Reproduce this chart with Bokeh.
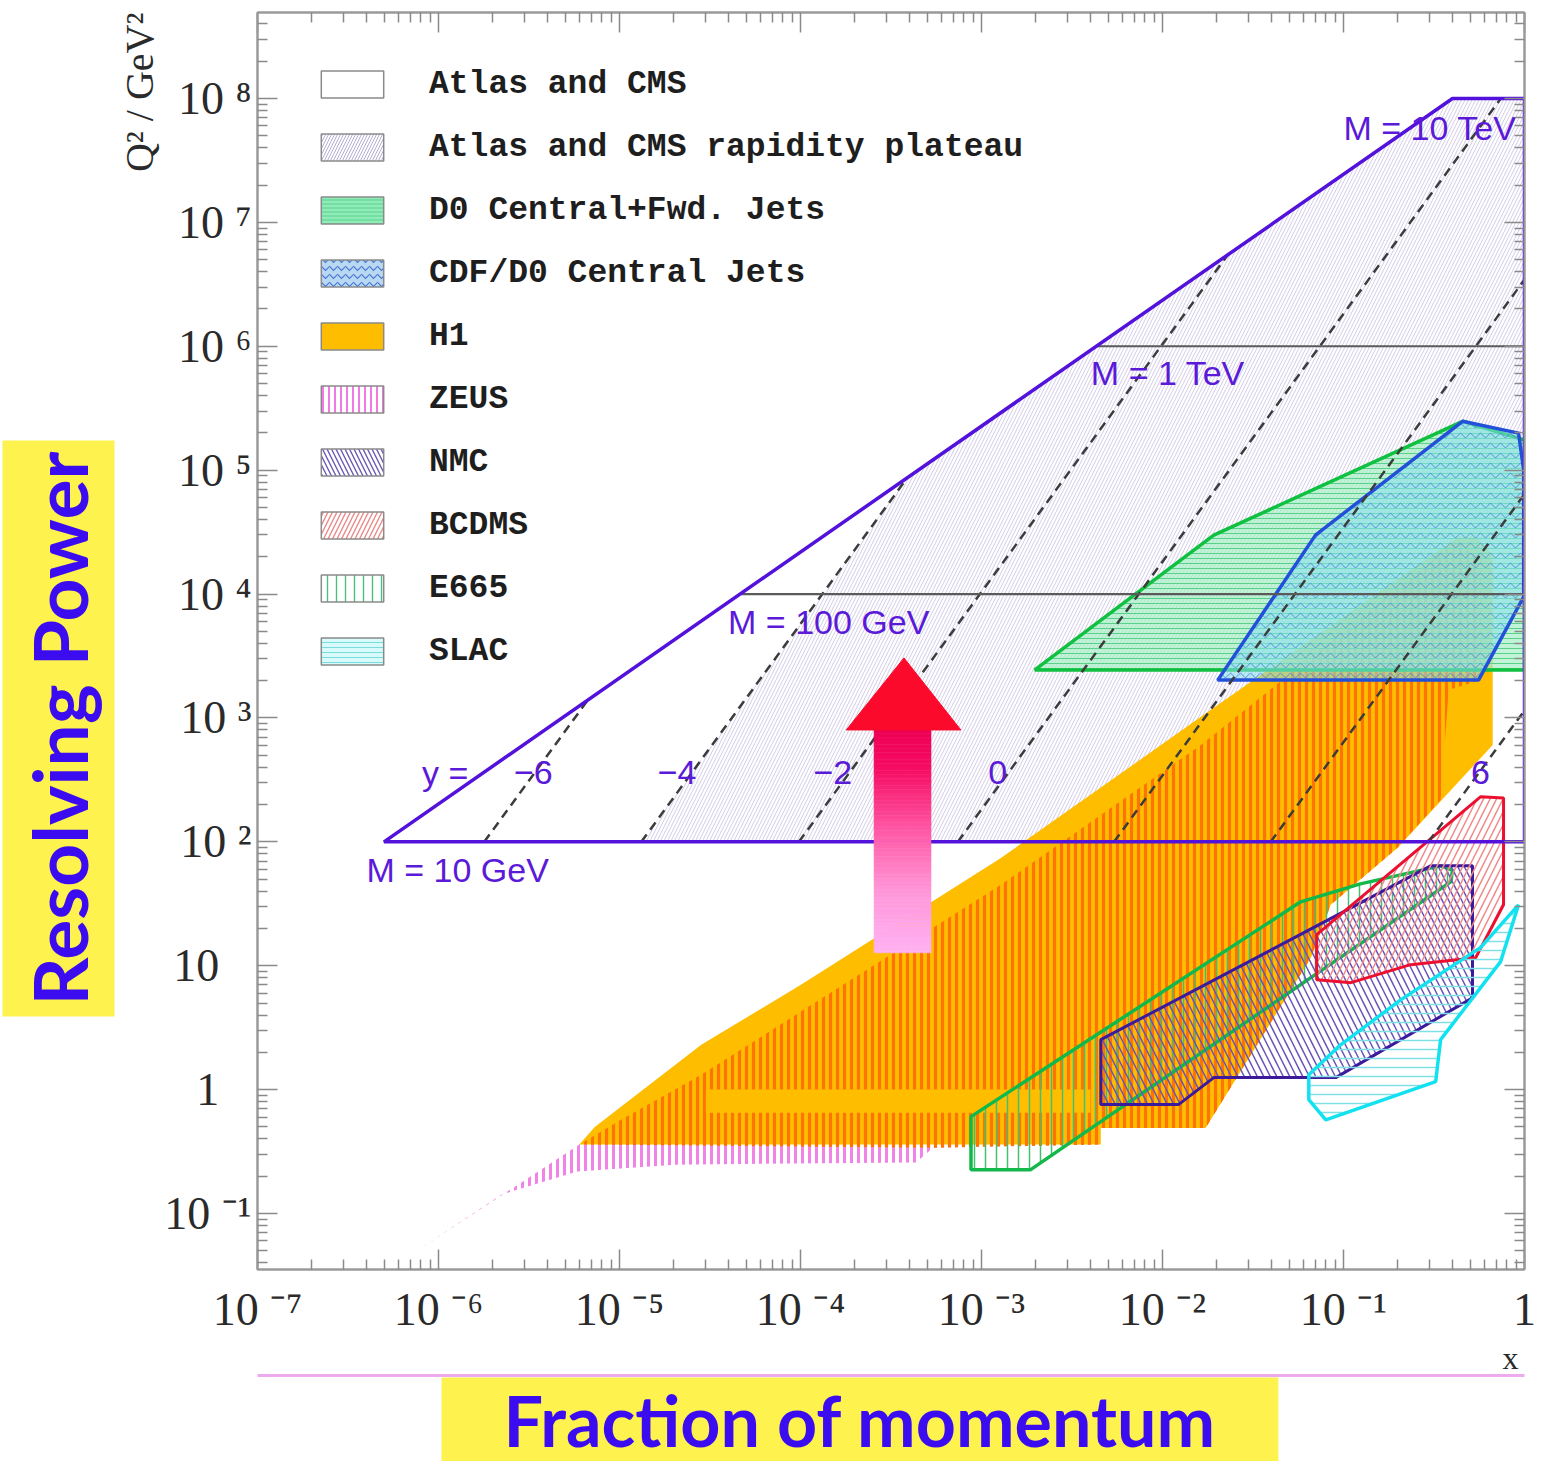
import numpy as np
from bokeh.plotting import figure
from bokeh.models import (Range1d, FixedTicker, LogAxis, LinearAxis, Legend,
                          LegendItem, Title)
from bokeh.core.properties import value
from bokeh.embed import file_html
from bokeh.resources import INLINE

# ---------------- kinematic region of the LHC (x, Q^2 in GeV^2) ----------------
lhc_x = [5.0e-7, 0.40, 1.0, 1.0]
lhc_q2 = [1e2, 1e8, 1e8, 1e2]

plateau_x = [1.32e-5, 3.85e-4, 0.40, 1.0, 1.0, 3.96e-2]
plateau_q2 = [1e2, 8.5e4, 1e8, 1e8, 6.4e4, 1e2]

# lines of constant rapidity y = -6 ... 6
rap_x0 = [1.79e-6, 1.32e-5, 9.8e-5, 7.4e-4, 5.4e-3, 3.96e-2, 0.295]
rap_q0 = [1e2, 1e2, 1e2, 1e2, 1e2, 1e2, 1e2]
rap_x1 = [6.65e-6, 3.85e-4, 2.28e-2, 0.74, 1.0, 1.0, 1.0]
rap_q1 = [1380, 8.5e4, 5.4e6, 1e8, 3.45e6, 6.4e4, 1150]

rap_text = ["y =", "\u22126", "\u22124", "\u22122", "0", "6"]
rap_text_x = [1.09e-6, 3.34e-6, 2.08e-5, 1.51e-4, 1.23e-3, 0.571]
rap_text_q2 = [360, 360, 360, 360, 360, 360]

# lines of constant mass M = 100 GeV and 1 TeV
mass_x0 = [4.7e-5, 4.34e-3]
mass_x1 = [1.0, 1.0]
mass_q2 = [1e4, 1e6]

mass_text = ["M = 10 GeV", "M = 100 GeV", "M = 1 TeV", "M = 10 TeV"]
mass_text_x = [4.0e-7, 3.98e-5, 4.02e-3, 0.10]
mass_text_q2 = [59.4, 5940, 6.05e5, 5.8e7]

# ---------------- measured regions ----------------
h1_x = [6.0e-6, 7.3e-6, 2.83e-5, 1.0e-4, 1.28e-3, 1.63e-2, 0.427, 0.537, 0.667,
        0.667, 0.199, 0.085, 0.066, 1.73e-2, 4.56e-3, 4.56e-3]
h1_q2 = [0.36, 0.50, 2.3, 7.0, 74, 1020, 2.88e4, 2.88e4, 2.07e4,
         605, 89.5, 31, 11.6, 0.49, 0.49, 0.36]

zeus_x = [7.1e-7, 2.22e-6, 5.85e-6, 2.03e-5, 4.35e-4, 5.4e-4, 4.56e-3, 4.56e-3,
          1.73e-2, 0.066, 0.085, 0.199, 0.344, 0.381, 0.571, 0.571, 0.427,
          1.63e-2, 1.28e-3, 1.0e-4, 2.83e-5, 1.02e-5, 6.0e-6]
zeus_q2 = [0.047, 0.142, 0.218, 0.248, 0.258, 0.34, 0.36, 0.49,
           0.49, 11.6, 31, 89.5, 218, 1680, 2020, 1.88e4, 2.72e4,
           605, 45, 4.25, 1.32, 0.57, 0.36]
# strip inside the H1 region not covered by ZEUS
zeus_gap_x = [3.0e-5, 4.0e-3, 4.0e-3, 3.0e-5]
zeus_gap_q2 = [1.0, 1.0, 0.65, 0.65]
ZEUS_LOW_X_TAIL = 5  # vertices of the ZEUS contour lying below the H1 region

e665_x = [8.75e-4, 8.75e-4, 1.87e-3, 0.391, 0.40, 0.344, 0.124, 0.058]
e665_q2 = [0.605, 0.226, 0.226, 47.5, 59, 64, 45.8, 32.8]

nmc_x = [4.56e-3, 4.56e-3, 1.23e-2, 1.92e-2, 0.0906, 0.516, 0.516, 0.303]
nmc_q2 = [2.53, 0.76, 0.76, 1.25, 1.25, 5.5, 64, 64]

bcdms_x = [0.0711, 0.0711, 0.110, 0.235, 0.537, 0.766, 0.766, 0.571]
bcdms_q2 = [17.8, 7.7, 7.3, 10.2, 11.6, 31, 226, 231]

slac_x = [0.0643, 0.0643, 0.0798, 0.323, 0.344, 0.738, 0.927, 0.571, 0.207, 0.0964]
slac_q2 = [1.32, 0.83, 0.57, 1.16, 2.53, 10.8, 31, 14, 5.3, 2.3]

d0_x = [1.97e-3, 1.92e-2, 0.455, 1.0, 1.0]
d0_q2 = [2440, 2.99e4, 2.48e5, 1.75e5, 2440]

cdf_x = [2.02e-2, 7.0e-2, 0.455, 0.927, 0.99, 0.99, 0.557]
cdf_q2 = [2020, 2.99e4, 2.48e5, 1.99e5, 1.0e5, 9.5e3, 2020]

# ---------------- axes ----------------
x_major = [1e-7, 1e-6, 1e-5, 1e-4, 1e-3, 1e-2, 1e-1, 1.0]
x_major_labels = ["10 \u207b\u2077", "10 \u207b\u2076", "10 \u207b\u2075", "10 \u207b\u2074",
                  "10 \u207b\u00b3", "10 \u207b\u00b2", "10 \u207b\u00b9", "1"]
y_major = [1e-1, 1.0, 10.0, 1e2, 1e3, 1e4, 1e5, 1e6, 1e7, 1e8]
y_major_labels = ["10 \u207b\u00b9", "1\u2002\u2009", "10\u2002\u2009", "10 \u00b2", "10 \u00b3",
                  "10 \u2074", "10 \u2075", "10 \u2076", "10 \u2077", "10 \u2078"]

X_MIN, X_MAX = 1e-7, 1.0
Y_MIN, Y_MAX = 10 ** -1.452, 10 ** 8.694

PURPLE = "#5312dc"
LABEL_PURPLE = "#5a1ad8"
CAPTION_BLUE = "#3c0cf0"
CAPTION_YELLOW = "#fdf24e"
SERIF = "Liberation Serif"

p = figure(width=1541, height=1461, x_axis_type="log", y_axis_type="log",
           x_range=Range1d(X_MIN, X_MAX), y_range=Range1d(Y_MIN, Y_MAX),
           output_backend="svg", toolbar_location=None,
           min_border_left=256, min_border_right=17, min_border_top=12,
           min_border_bottom=191)
p.grid.visible = False
p.background_fill_color = "white"
p.border_fill_color = "white"
p.outline_line_color = "#9a9a9a"
p.outline_line_width = 2


def minor_ticks(lo_exp, hi_exp):
    out = []
    for k in range(lo_exp, hi_exp):
        for m in range(2, 10):
            out.append(m * 10.0 ** k)
    return out


x_ticker = FixedTicker(ticks=x_major, minor_ticks=minor_ticks(-7, 0))
y_ticker = FixedTicker(ticks=y_major, minor_ticks=minor_ticks(-2, 9))


def style_axis(ax):
    ax.major_tick_in = 20
    ax.major_tick_out = 0
    ax.minor_tick_in = 10
    ax.minor_tick_out = 0
    ax.major_tick_line_color = "#8a8a8a"
    ax.minor_tick_line_color = "#8a8a8a"
    ax.major_tick_line_width = 1.5
    ax.minor_tick_line_width = 1.5
    ax.axis_line_color = "#9a9a9a"
    ax.axis_line_width = 2
    ax.major_label_text_font = SERIF
    ax.major_label_text_font_size = "46px"
    ax.major_label_text_color = "#2a2a2a"


p.xaxis.ticker = x_ticker
p.yaxis.ticker = y_ticker
p.xaxis.major_label_overrides = dict(zip(x_major, x_major_labels))
p.yaxis.major_label_overrides = dict(zip(y_major, y_major_labels))
style_axis(p.xaxis[0])
style_axis(p.yaxis[0])
p.xaxis.major_label_standoff = 14
p.yaxis.major_label_standoff = 6
p.yaxis.major_label_orientation = "horizontal"

# mirrored tick marks on the top and right edges, without labels
top_axis = LogAxis(ticker=x_ticker, major_label_overrides={t: "" for t in x_major},
                   major_label_standoff=0)
right_axis = LogAxis(ticker=y_ticker, major_label_overrides={t: "" for t in y_major},
                     major_label_standoff=0)
style_axis(top_axis)
style_axis(right_axis)
p.add_layout(top_axis, "above")
p.add_layout(right_axis, "right")

# ---------------- regions, back to front ----------------
p.patch(plateau_x, plateau_q2, fill_color="white", fill_alpha=0, line_color=None,
        hatch_pattern="right_diagonal_line", hatch_color="#d2cae6",
        hatch_scale=7, hatch_weight=1)

p.patch(zeus_x, zeus_q2, fill_color="white", fill_alpha=0, line_color=None,
        hatch_pattern="vertical_line", hatch_color="#f283e6",
        hatch_scale=7, hatch_weight=3)

p.patch(h1_x, h1_q2, fill_color="#ffbd00", line_color=None)

# the part of the ZEUS region lying over H1
p.patch(zeus_x[ZEUS_LOW_X_TAIL:], zeus_q2[ZEUS_LOW_X_TAIL:], fill_color="white",
        fill_alpha=0, line_color=None, hatch_pattern="vertical_line",
        hatch_color="#ff7400", hatch_scale=7, hatch_weight=3.2)
p.patch(zeus_gap_x, zeus_gap_q2, fill_color="#ffbd00", line_color=None)

p.patch(e665_x, e665_q2, fill_color=None, line_color="#12b84a", line_width=3.5,
        hatch_pattern="vertical_line", hatch_color="#40c070", hatch_scale=11,
        hatch_weight=1.5)
p.patch(nmc_x, nmc_q2, fill_color=None, line_color="#3c1a9c", line_width=3,
        hatch_pattern="left_diagonal_line", hatch_color="#6a54b8", hatch_scale=13,
        hatch_weight=1.5)
p.patch(bcdms_x, bcdms_q2, fill_color=None, line_color="#ec1030", line_width=3,
        hatch_pattern="right_diagonal_line", hatch_color="#f08a8a", hatch_scale=13,
        hatch_weight=1.5)
p.patch(slac_x, slac_q2, fill_color=None, line_color="#12e2f0", line_width=3.5,
        hatch_pattern="horizontal_line", hatch_color="#7ee0e4", hatch_scale=9,
        hatch_weight=1.5)

p.patch(d0_x, d0_q2, fill_color="#a6f0c4", fill_alpha=0.7, line_color="#10c040",
        line_width=3.5, hatch_pattern="horizontal_line", hatch_color="#58d28a",
        hatch_scale=5, hatch_weight=1)
p.patch(cdf_x, cdf_q2, fill_color="#86def0", fill_alpha=0.55, line_color="#2250d8",
        line_width=3.5, hatch_pattern="horizontal_wave", hatch_color="#3a78d8",
        hatch_scale=10, hatch_weight=1, hatch_alpha=0.8)

# ---------------- kinematic lines ----------------
p.segment(rap_x0, rap_q0, rap_x1, rap_q1, line_color="#3c3c3c", line_width=2.5,
          line_dash="9 6")
p.segment(mass_x0, mass_q2, mass_x1, mass_q2, line_color="#5a5a5a", line_width=2.2)
p.patch(lhc_x, lhc_q2, fill_color=None, line_color=PURPLE, line_width=3.5)

p.text(mass_text_x, mass_text_q2, text=mass_text, text_font=value("Liberation Sans"),
       text_font_size="34px", text_color=LABEL_PURPLE, text_align="left",
       text_baseline="middle")
p.text(rap_text_x, rap_text_q2, text=rap_text, text_font=value("Liberation Sans"),
       text_font_size="34px", text_color=LABEL_PURPLE, text_align="center",
       text_baseline="middle")

# ---------------- upward arrow with a pink-to-red fade ----------------
ARROW_LEFT, ARROW_RIGHT = 2.55e-4, 5.26e-4
ARROW_HEAD_LEFT, ARROW_TIP_X, ARROW_HEAD_RIGHT = 1.79e-4, 3.73e-4, 7.69e-4
ARROW_BOTTOM, ARROW_HEAD_BASE, ARROW_TIP = 12.7, 800.0, 3050.0

fade = [(0.0, (238, 0, 84)), (0.18, (246, 14, 100)), (0.45, (255, 88, 165)),
        (0.72, (255, 150, 215)), (1.0, (255, 178, 246))]


def fade_color(t):
    for (t0, c0), (t1, c1) in zip(fade[:-1], fade[1:]):
        if t <= t1:
            f = (t - t0) / (t1 - t0)
            c = [int(round(a + (b - a) * f)) for a, b in zip(c0, c1)]
            return "#%02x%02x%02x" % tuple(c)
    return "#%02x%02x%02x" % fade[-1][1]


n_slices = 60
edges = np.geomspace(ARROW_HEAD_BASE, ARROW_BOTTOM, n_slices + 1)
slice_colors = [fade_color((i + 0.5) / n_slices) for i in range(n_slices)]
p.quad(left=[ARROW_LEFT] * n_slices, right=[ARROW_RIGHT] * n_slices,
       top=edges[:-1], bottom=edges[1:], fill_color=slice_colors,
       line_color=slice_colors, line_width=0.6)
p.patch([ARROW_HEAD_LEFT, ARROW_TIP_X, ARROW_HEAD_RIGHT],
        [ARROW_HEAD_BASE, ARROW_TIP, ARROW_HEAD_BASE],
        fill_color="#fb0a2c", line_color="#fb0a2c", line_width=1)

# ---------------- legend ----------------
legend_specs = [
    ("Atlas and CMS", dict(fill_color="white")),
    ("Atlas and CMS rapidity plateau",
     dict(fill_color="white", hatch_pattern="right_diagonal_line",
          hatch_color="#b4acd4", hatch_scale=6, hatch_weight=1)),
    ("D0 Central+Fwd. Jets",
     dict(fill_color="#8eecb6", hatch_pattern="horizontal_line",
          hatch_color="#5ccf8e", hatch_scale=4, hatch_weight=1)),
    ("CDF/D0 Central Jets",
     dict(fill_color="#b8d8f4", hatch_pattern="horizontal_wave",
          hatch_color="#4a78d0", hatch_scale=8, hatch_weight=1.2)),
    ("H1", dict(fill_color="#ffbd00")),
    ("ZEUS", dict(fill_color="white", hatch_pattern="vertical_line",
                  hatch_color="#f07ae4", hatch_scale=6, hatch_weight=2)),
    ("NMC", dict(fill_color="white", hatch_pattern="left_diagonal_line",
                 hatch_color="#6e5ab4", hatch_scale=9, hatch_weight=1.4)),
    ("BCDMS", dict(fill_color="white", hatch_pattern="right_diagonal_line",
                   hatch_color="#e88a8a", hatch_scale=9, hatch_weight=1.4)),
    ("E665", dict(fill_color="white", hatch_pattern="vertical_line",
                  hatch_color="#48c07a", hatch_scale=9, hatch_weight=1.4)),
    ("SLAC", dict(fill_color="#d8fafa", hatch_pattern="horizontal_line",
                  hatch_color="#78dcdc", hatch_scale=5, hatch_weight=1)),
]
items = []
for name, style in legend_specs:
    r = p.patch(x=[1e-9, 1e-9], y=[1e-9, 1e-9], line_color="#8a8a8a",
                line_width=1.5, **style)
    items.append(LegendItem(label=name, renderers=[r]))

legend = Legend(items=items, location=(56, 598), orientation="vertical",
                glyph_width=78, glyph_height=34, label_standoff=38, spacing=23,
                label_height=40, padding=0, margin=0,
                label_text_font="Liberation Mono", label_text_font_style="bold",
                label_text_font_size="33px", label_text_color="#1e1e1e",
                border_line_alpha=0, background_fill_alpha=0)
p.add_layout(legend, "center")

# ---------------- captions outside the frame ----------------
p.add_layout(Title(text="Q\u00b2 / GeV\u00b2", align="right", offset=0, standoff=0,
                   text_font=SERIF, text_font_size="40px", text_font_style="normal",
                   text_color="#2a2a2a"), "left")
p.add_layout(Title(text="Resolving Power", align="left", offset=253, standoff=0,
                   text_font="Lato", text_font_style="bold", text_font_size="75px",
                   text_color=CAPTION_BLUE, background_fill_color=CAPTION_YELLOW,
                   padding=(11, 11)), "left")

p.add_layout(Title(text="x", align="right", offset=6, standoff=0,
                   text_font=SERIF, text_font_size="32px", text_font_style="normal",
                   text_color="#2a2a2a"), "below")
pink_rule = LinearAxis(ticker=FixedTicker(ticks=[]), axis_line_color="#eeaaee",
                       axis_line_width=3, major_tick_line_color=None,
                       minor_tick_line_color=None, major_label_standoff=0)
p.add_layout(pink_rule, "below")
p.add_layout(Title(text="Fraction of momentum", align="left", offset=184, standoff=0,
                   text_font="Lato", text_font_style="bold", text_font_size="70px",
                   text_color=CAPTION_BLUE, background_fill_color=CAPTION_YELLOW,
                   padding=(62, 0)), "below")

open("out.html", "w").write(file_html(p, INLINE))
